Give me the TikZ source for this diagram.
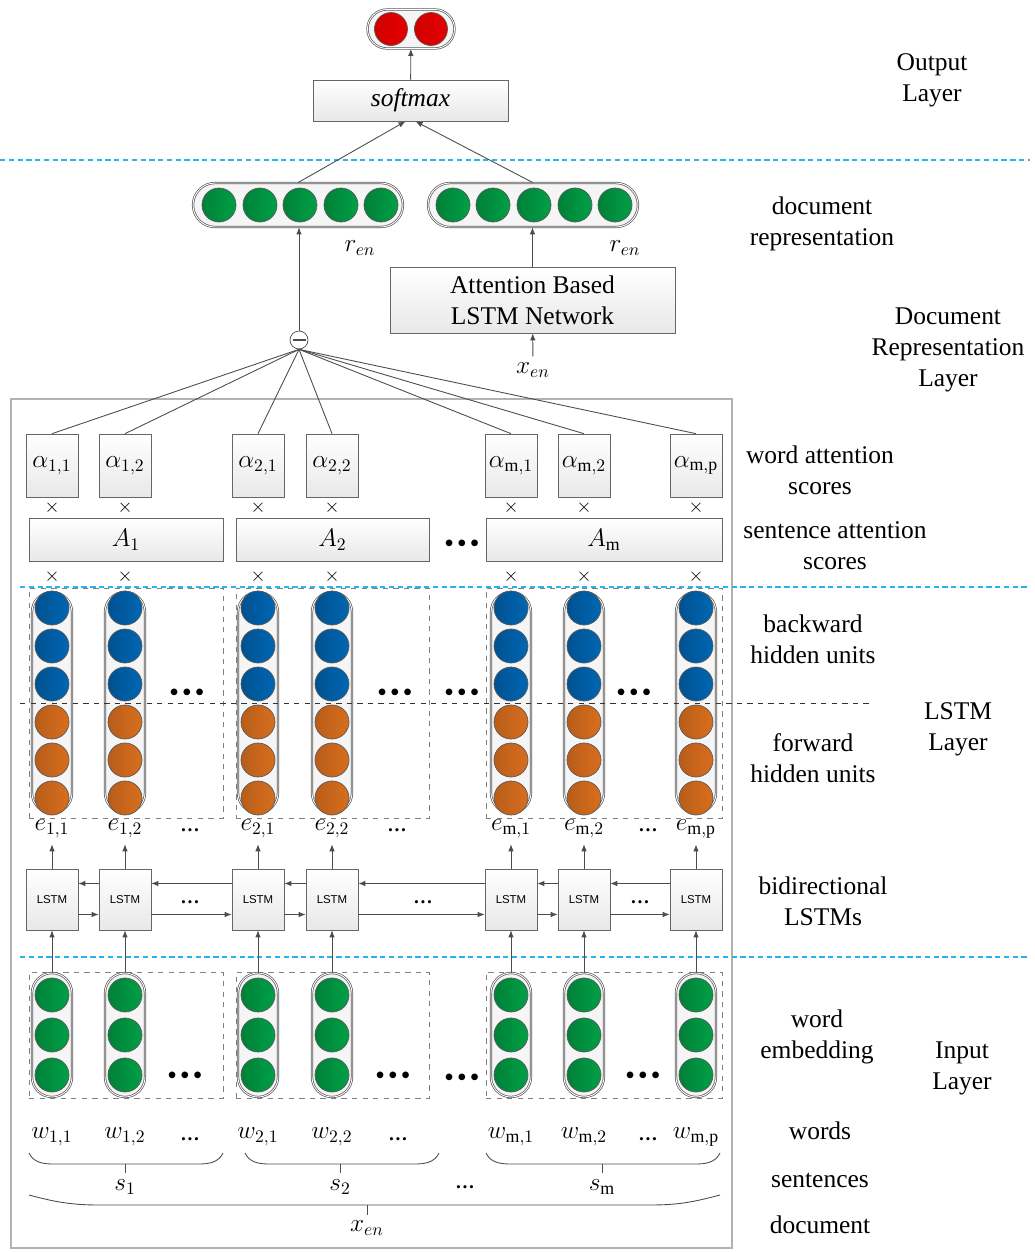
\documentclass[tikz,border=0pt]{standalone}
\usepackage{fontspec}
\setmainfont{Liberation Serif}
\setsansfont{Liberation Sans}
\usepackage{tikz}
\usetikzlibrary{arrows.meta,calc}
\definecolor{unitblue}{HTML}{0066B3}
\definecolor{unitorange}{HTML}{D86E1E}
\definecolor{unitgreen}{HTML}{00A046}
\definecolor{unitred}{HTML}{E60000}
\definecolor{sepcyan}{HTML}{2AB4EE}

\begin{document}
\begin{tikzpicture}[
  x=0.02cm, y=-0.02cm,
  every node/.style={font=\fontsize{14.5}{17.6}\selectfont},
  box/.style={draw=gray!80!black, top color=white, bottom color=gray!18, inner sep=0pt},
  abox/.style={box, minimum width=1.04cm, minimum height=1.26cm},
  lstm/.style={box, minimum width=1.04cm, minimum height=1.22cm, font=\sffamily\fontsize{6.5}{7}\selectfont},
  pill/.style={draw=gray!70!black, double=white, double distance=0.5pt, fill=gray!8, inner sep=0pt},
  vpill/.style={pill, rounded corners=0.4cm, minimum width=0.8cm},
  hpill/.style={pill, rounded corners=0.44cm, minimum height=0.88cm},
  unit/.style={circle, draw=black!65, line width=0.4pt, minimum size=0.68cm, inner sep=0pt},
  bunit/.style={unit, left color=unitblue!80!black, right color=unitblue},
  funit/.style={unit, left color=unitorange!85!black, right color=unitorange},
  gunit/.style={unit, left color=unitgreen!80!black, right color=unitgreen},
  runit/.style={unit, minimum size=0.66cm, left color=unitred!90!black, right color=unitred},
  grp/.style={draw=gray, dashed, inner sep=0pt},
  sep/.style={sepcyan, line width=1.2pt, dash pattern=on 3pt off 2pt},
  arrow/.style={-{Latex[length=1.4mm,width=1.1mm]}, black!70, line width=0.5pt},
  link/.style={black!70, line width=0.5pt},
  mult/.style={font=\fontsize{11}{11}\selectfont, inner sep=0pt},
  bigdots/.style={font=\fontsize{14}{14}\selectfont\bfseries, inner sep=0pt},
  smalldots/.style={font=\fontsize{11}{11}\selectfont\bfseries, inner sep=0pt},
  layer/.style={align=center}
]
\useasboundingbox (0,0) rectangle (1035,1252);

\node[hpill, minimum width=1.74cm, minimum height=0.78cm, rounded corners=0.39cm] (outp) at (411,29) {};
\foreach \x [count=\i] in {391,431} \node[runit] (o\i) at (\x,29) {};
\node[box, minimum width=3.9cm, minimum height=0.82cm] (softmax) at (410.5,100.5) {\textit{softmax}};
\draw[arrow] (softmax) -- (outp);

\draw[sep] (0,160) -- (1030,160);

\node[hpill, minimum width=4.2cm] (docl) at (298,205) {};
\foreach \x [count=\i] in {219,260,300,341,381} \node[gunit] (dl\i) at (\x,205) {};
\node[hpill, minimum width=4.2cm] (docr) at (533,205) {};
\foreach \x [count=\i] in {453,493,534,575,615} \node[gunit] (dr\i) at (\x,205) {};
\draw[arrow] (docl.north) -- ([xshift=-0.1cm]softmax.south);
\draw[arrow] (docr.north) -- ([xshift=0.1cm]softmax.south);
\node (rl) at (360,248) {$r_{en}$};
\node (rr) at (625,248) {$r_{en}$};

\node[box, minimum width=5.7cm, minimum height=1.32cm, align=center] (attn) at (532.5,300) {Attention Based\\LSTM Network};
\node (xen) at (533,370) {$x_{en}$};
\draw[arrow] (xen) -- (attn);
\draw[arrow] (attn.north) -- (attn.north |- docr.south);

\draw[gray!60, line width=1.1pt] (11,399) rectangle (732,1248);

\node[circle, draw=black!70, fill=white, minimum size=0.36cm, inner sep=0pt,
  path picture={\draw[line width=0.8pt] ([xshift=-0.13cm]path picture bounding box.center) -- ([xshift=0.13cm]path picture bounding box.center);}] (merge) at (299,340) {};
\draw[arrow] (merge.north) -- (merge.north |- docl.south);

\foreach \x/\w/\n/\s in {126/3.88cm/1/1, 332.5/3.86cm/2/2, 604/4.72cm/m/\mathrm{m}} {
  \node[box, minimum width=\w, minimum height=0.86cm] (A\n) at (\x,539.5) {$A_{\s}$};
  \node[grp, minimum width=\w, minimum height=4.6cm] (hg\n) at (\x,703) {};
  \node[grp, minimum width=\w, minimum height=2.52cm] (wg\n) at (\x,1035) {};
}

\draw[sep] (20,587) -- (1030,587);
\draw[sep] (20,957) -- (1030,957);

\foreach \x/\n/\i/\j in {52/11/1/1, 125/12/1/2, 258/21/2/1, 332/22/2/2, 511/m1/\mathrm{m}/1, 584/m2/\mathrm{m}/2, 696/mp/\mathrm{m}/\mathrm{p}} {
  \node[abox] (a\n) at (\x,465.5) {$\alpha_{\i,\j}$};
  \node[mult] (xa\n) at (\x,508) {$\times$};
  \node[mult] (xh\n) at (\x,577) {$\times$};
  \node[vpill, minimum height=4.42cm] (h\n) at (\x,702.5) {};
  \foreach \y [count=\k] in {608,646,684} \node[bunit] (b\n-\k) at (\x,\y) {};
  \foreach \y [count=\k] in {722,760,798} \node[funit] (f\n-\k) at (\x,\y) {};
  \node (e\n) at (\x,829) {$e_{\i,\j}$};
  \node[lstm] (l\n) at (\x,899.5) {LSTM};
  \node[vpill, minimum height=2.48cm] (wp\n) at (\x,1035) {};
  \foreach \y [count=\k] in {995,1035,1075} \node[gunit] (g\n-\k) at (\x,\y) {};
  \node (w\n) at (\x,1137) {$w_{\i,\j}$};
  \draw[link] (merge.south) -- (a\n.north);
  \draw[arrow] (l\n) -- (e\n);
  \draw[arrow] (wp\n) -- (l\n);
}
\draw[dashed, black!80] (20,703) -- (873,703);

\foreach \a/\b in {11/12, 12/21, 21/22, 22/m1, m1/m2, m2/mp} {
  \draw[arrow] ([yshift=-0.3cm]l\a.east) -- ([yshift=-0.3cm]l\b.west);
  \draw[arrow] ([yshift=0.32cm]l\b.west) -- ([yshift=0.32cm]l\a.east);
}

\foreach \x/\y [count=\k] in {187/695, 395/695, 462/695, 634/695, 185/1078, 393/1078, 462/1080, 643/1078, 462/546}
  \node[bigdots] (bd\k) at (\x,\y) {\textbullet\,\textbullet\,\textbullet};
\foreach \x/\y [count=\k] in {190/830, 397/830, 648/830, 190/902, 423/902, 640/902, 190/1139, 398/1139, 648/1139, 465/1187}
  \node[smalldots] (sd\k) at (\x,\y) {\ldots};

\foreach \l/\r/\m/\lab [count=\k] in {29/223/125/s_1, 245/439/340/s_2, 486/720/602/s_{\mathrm{m}}} {
  \draw[link] (\l,1153) to[out=-65,in=180] (\l+25,1164) -- (\r-25,1164) to[out=0,in=245] (\r,1153);
  \draw[link] (\m,1164) -- (\m,1173);
  \node (s\k) at (\m,1187) {$\lab$};
}
\draw[link] (29,1195) to[out=-15,in=180] (100,1205) -- (650,1205) to[out=0,in=195] (720,1195);
\draw[link] (367,1205) -- (367,1215);
\node (xdoc) at (367,1228) {$x_{en}$};

\node[layer] (lout) at (932,80.5) {Output\\Layer};
\node[layer] (ldocrep) at (822,223.5) {document\\representation};
\node[layer] (ldoclayer) at (948,349.5) {Document\\Representation\\Layer};
\node[layer] (lword) at (820,470) {word attention\\scores};
\node[layer] (lsent) at (835,545.5) {sentence attention\\scores};
\node[layer] (lback) at (813,639) {backward\\hidden units};
\node[layer] (llstm) at (958,729.5) {LSTM\\Layer};
\node[layer] (lfwd) at (813,758.5) {forward\\hidden units};
\node[layer] (lbi) at (823,901) {bidirectional\\LSTMs};
\node[layer] (lemb) at (817,1037) {word\\embedding};
\node[layer] (lin) at (962,1068.5) {Input\\Layer};
\node (lwords) at (820,1131) {words};
\node (lsents) at (820,1180) {sentences};
\node (ldoc) at (820,1225) {document};
\end{tikzpicture}
\end{document}
